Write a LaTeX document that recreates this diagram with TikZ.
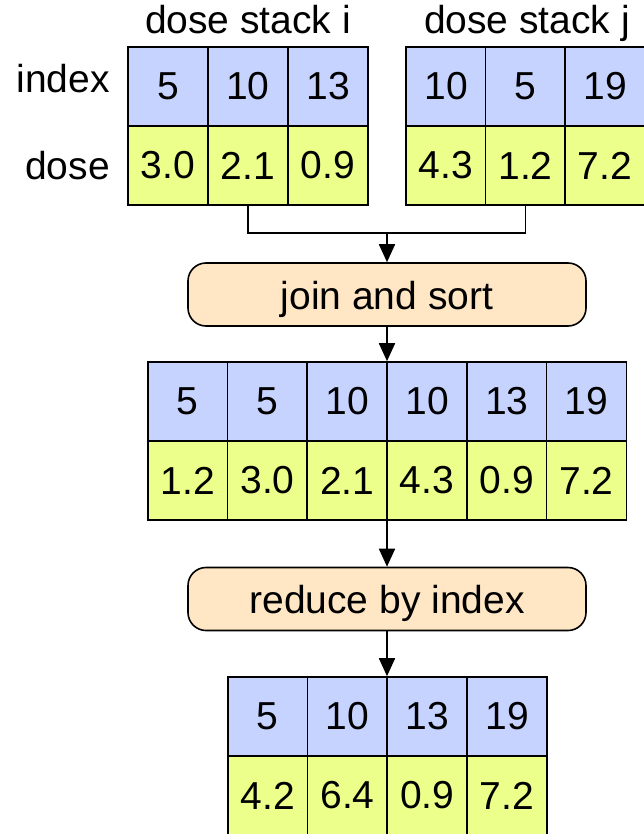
\documentclass[tikz,border=0pt]{standalone}
\usepackage{fontspec}
\setmainfont{Liberation Sans}
\usetikzlibrary{arrows.meta}
\definecolor{idxblue}{RGB}{199,211,255}
\definecolor{doseyellow}{RGB}{235,255,138}
\definecolor{boxorange}{RGB}{255,231,197}
\newcommand\bigtxt{\fontsize{39}{47}\selectfont}
\begin{document}
\begin{tikzpicture}[x=1pt,y=-1pt,
  cellbase/.style={draw, line width=1.6pt, minimum width=80pt, minimum height=79pt, inner sep=0pt, font=\bigtxt},
  idxcell/.style={cellbase, fill=idxblue},
  dosecell/.style={cellbase, fill=doseyellow},
  opbox/.style={draw, line width=1.6pt, fill=boxorange, rounded corners=18pt, minimum width=398pt, minimum height=63pt, inner sep=0pt, font=\bigtxt, text height=37pt, text depth=8pt},
  lbl/.style={font=\bigtxt, inner sep=0pt},
  conn/.style={line width=1.8pt},
  arr/.style={line width=1.8pt, -{Triangle[length=18pt,width=16pt]}}
]
\useasboundingbox (0,0) rectangle (644,834);
% titles and row labels
\node[lbl, anchor=base] (ti) at (248,34) {dose stack i};
\node[lbl, anchor=base] (tj) at (527,34) {dose stack j};
\node[lbl, anchor=base east] (lidx) at (110,93) {index};
\node[lbl, anchor=base east] (ldose) at (110,180) {dose};
% stack i
\foreach \v [count=\k] in {5,10,13} \node[idxcell] (si\k) at ({88+80*\k},86.5) {\v};
\foreach \v [count=\k] in {3.0,2.1,0.9} \node[dosecell] (sd\k) at ({88+80*\k},165.5) {\v};
% stack j
\foreach \v [count=\k] in {10,5,19} \node[idxcell] (ji\k) at ({366.5+79.5*\k},86.5) {\v};
\foreach \v [count=\k] in {4.3,1.2,7.2} \node[dosecell] (jd\k) at ({366.5+79.5*\k},165.5) {\v};
% join box
\node[opbox] (join) at (387,294.5) {join and sort};
% middle table
\foreach \v [count=\k] in {5,5,10,10,13,19} \node[idxcell] (mi\k) at ({108+79.75*\k},401.5) {\v};
\foreach \v [count=\k] in {1.2,3.0,2.1,4.3,0.9,7.2} \node[dosecell] (md\k) at ({108+79.75*\k},480.5) {\v};
% reduce box
\node[opbox] (reduce) at (387,599) {reduce by index};
% bottom table
\foreach \v [count=\k] in {5,10,13,19} \node[idxcell] (bi\k) at ({188+79.75*\k},716.5) {\v};
\foreach \v [count=\k] in {4.2,6.4,0.9,7.2} \node[dosecell] (bd\k) at ({188+79.75*\k},795.5) {\v};
% connectors
\coordinate (jn) at (387,233);
\draw[conn] (sd2.south) |- (jn) -| (jd2.south);
\draw[arr] (jn) -- (join.north);
\draw[arr] (join.south) -- (join.south |- mi3.north);
\draw[arr] (reduce.north |- md3.south) -- (reduce.north);
\draw[arr] (reduce.south) -- (reduce.south |- bi2.north);
\end{tikzpicture}
\end{document}
